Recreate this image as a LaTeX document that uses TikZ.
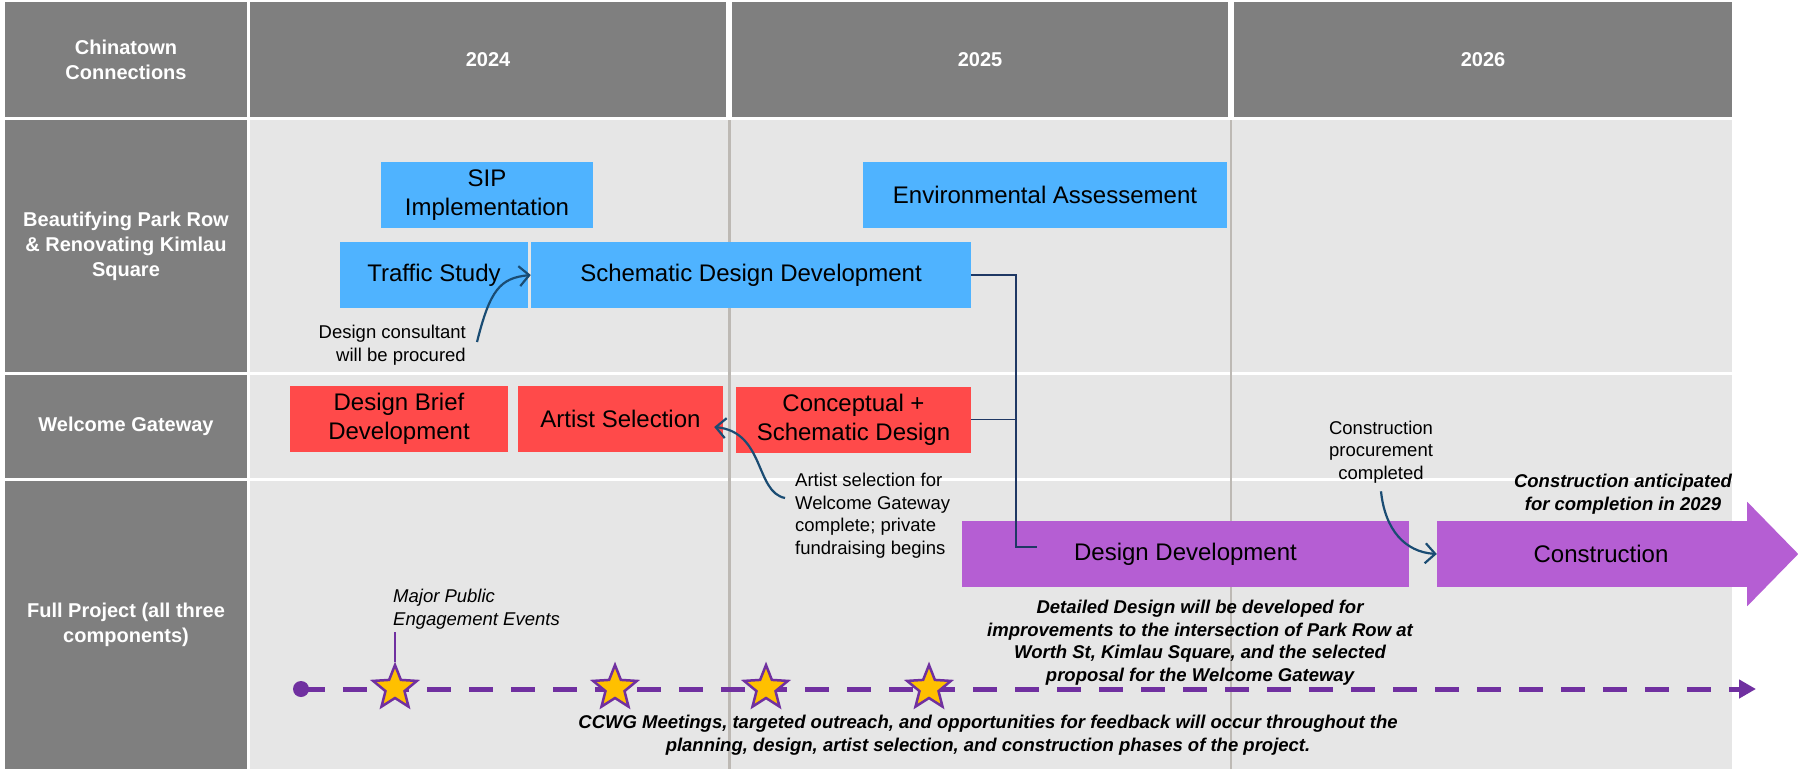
\documentclass[tikz,border=0pt]{standalone}
\usepackage{fontspec}
\setmainfont{Liberation Sans}
\usetikzlibrary{arrows.meta,shapes.geometric}
\definecolor{hdrgray}{HTML}{7F7F7F}
\definecolor{bggray}{HTML}{E6E6E6}
\definecolor{sepgray}{HTML}{BDB9B4}
\definecolor{sipblue}{HTML}{4FB3FF}
\definecolor{gatered}{HTML}{FF4A4A}
\definecolor{ddpurple}{HTML}{B55ED3}
\definecolor{linepurple}{HTML}{7030A0}
\definecolor{staryellow}{HTML}{FFC000}
\definecolor{elbownavy}{HTML}{1F3864}
\definecolor{notenavy}{HTML}{1A4C73}
\begin{document}
\begin{tikzpicture}
[x=1pt,y=-1pt,
cell/.style={fill=hdrgray,text=white,font=\fontsize{20}{25}\selectfont\bfseries,align=center,inner sep=0pt},
task/.style={inner sep=0pt,align=center,minimum height=66pt,font=\fontsize{24}{29}\selectfont},
blue task/.style={task,fill=sipblue},
red task/.style={task,fill=gatered},
purple task/.style={task,fill=ddpurple},
yearline/.style={sepgray,line width=2.5pt},
elbow/.style={elbownavy,line width=1.5pt},
note/.style={inner sep=0pt,font=\fontsize{18.5}{22.5}\selectfont},
bold note/.style={note,align=center,font=\fontsize{18.5}{22.5}\selectfont\bfseries\itshape},
note arrow/.style={notenavy,line width=2.2pt,-{Straight Barb[length=10pt,width=20pt]}},
timeline/.style={linepurple,line width=5pt,dash pattern=on 24pt off 18pt,-{Triangle[length=17pt,width=18pt]}},
tick/.style={linepurple,line width=2.5pt},
dot/.style={circle,fill=linepurple,inner sep=0pt,minimum size=16pt},
event/.style={star,star points=5,star point ratio=2.3,minimum size=46pt,inner sep=0pt,fill=staryellow,draw=linepurple,line width=2.5pt}]
\path[use as bounding box,fill=white] (0,0) rectangle (1798,769);
% header
\node[cell,minimum width=242pt,minimum height=115pt] (corner) at (126,59.5) {Chinatown\\Connections};
\node[cell,minimum width=476pt,minimum height=115pt] (y2024) at (488,59.5) {2024};
\node[cell,minimum width=496pt,minimum height=115pt] (y2025) at (980,59.5) {2025};
\node[cell,minimum width=498pt,minimum height=115pt] (y2026) at (1483,59.5) {2026};
% rows
\node[cell,minimum width=242pt,minimum height=252pt] (park) at (126,246) {Beautifying Park Row\\\& Renovating Kimlau\\Square};
\node[cell,minimum width=242pt,minimum height=103pt] (gate) at (126,426.5) {Welcome Gateway};
\node[cell,minimum width=242pt,minimum height=288pt] (full) at (126,625) {Full Project (all three\\components)};
\fill[bggray] (250,120) rectangle (1732,372);
\fill[bggray] (250,375) rectangle (1732,478);
\fill[bggray] (250,481) rectangle (1732,769);
\foreach \x in {729.5,1231}
  \draw[yearline] (\x,120) -- (\x,769);
% tasks
\node[blue task,minimum width=212pt] (sip) at (487,195) {SIP\\Implementation};
\node[blue task,minimum width=364pt] (envass) at (1045,195) {Environmental Assessement};
\node[blue task,minimum width=188pt] (traffic) at (434,275) {Traffic Study};
\node[blue task,minimum width=440pt] (schem) at (751,275) {Schematic Design Development};
\node[red task,minimum width=218pt] (brief) at (399,419) {Design Brief\\Development};
\node[red task,minimum width=205pt] (artist) at (620.5,419) {Artist Selection};
\node[red task,minimum width=235pt] (concept) at (853.5,419.5) {Conceptual +\\Schematic Design};
\node[purple task,minimum width=447pt] (desdev) at (1185.5,554) {Design Development};
\node[purple task,minimum width=310pt] (constr) at (1592,554) {\hspace*{18pt}Construction};
\fill[ddpurple] ([yshift=19pt]constr.north east) -- ([xshift=51pt]constr.east) -- ([yshift=-19pt]constr.south east) -- cycle;
\coordinate (ddend) at (1037,547);
\draw[elbow] (schem.east) -- ++(45,0) |- (ddend);
\draw[elbow] (concept.east) -- ++(45,0);
% notes
\node[note,anchor=east,align=right] (consult) at (466,345) {Design consultant\\will be procured};
\node[note,anchor=west,align=left] (artnote) at (795,515.5) {Artist selection for\\Welcome Gateway\\complete; private\\fundraising begins};
\node[note,align=center] (procnote) at (1381,452) {Construction\\procurement\\completed};
\node[bold note] (anticip) at (1623,494) {Construction anticipated\\for completion in 2029};
\node[bold note] (detail) at (1200,642.5) {Detailed Design will be developed for\\improvements to the intersection of Park Row at\\Worth St, Kimlau Square, and the selected\\proposal for the Welcome Gateway};
\node[note,font=\fontsize{18.5}{22.5}\selectfont\itshape,anchor=west,align=left] (major) at (393,609) {Major Public\\Engagement Events};
\node[bold note] (ccwg) at (988,735) {CCWG Meetings, targeted outreach, and opportunities for feedback will occur throughout the\\planning, design, artist selection, and construction phases of the project.};
\draw[note arrow] ([xshift=11pt,yshift=3pt]consult.east) .. controls (490,290) and (500,278) .. (schem.west);
\draw[note arrow] ([xshift=-10pt,yshift=17.5pt]artnote.west) .. controls (755,492) and (765,432) .. ([xshift=-9pt,yshift=-8pt]artist.east);
\draw[note arrow] ([yshift=-8pt]procnote.south) .. controls (1385,530) and (1405,552) .. (constr.west);
% timeline
\node[dot] (tstart) at (301,689) {};
\coordinate (tend) at (1756,689);
\draw[timeline] (tstart.center) -- (tend);
\coordinate (mpe) at (395,632);
\foreach \n/\x in {1/395,2/615,3/766,4/929}
  \node[event] (ev\n) at (\x,688) {};
\draw[tick] (mpe) -- (ev1.north);
\end{tikzpicture}
\end{document}
